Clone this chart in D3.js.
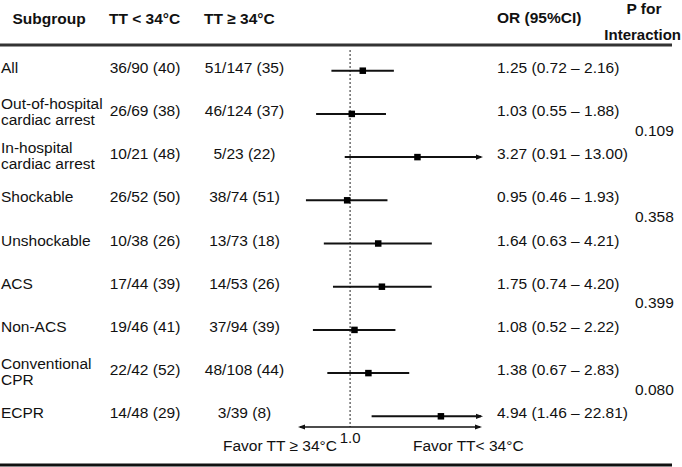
<!DOCTYPE html>
<html>
<head>
<meta charset="utf-8">
<script src="https://cdn.jsdelivr.net/npm/d3@7"></script>
<style>
  html, body { margin: 0; padding: 0; background: #fff; }
  svg { display: block; }
  text { font-family: "Liberation Sans", Arial, sans-serif; fill: #111; }
</style>
</head>
<body>
<div id="chart"></div>
<script>
// ---------- data ----------
const subgroups = ["All", "Out-of-hospital cardiac arrest", "In-hospital cardiac arrest", "Shockable",
                   "Unshockable", "ACS", "Non-ACS", "Conventional CPR", "ECPR"];
const subgroupLines = [["All"], ["Out-of-hospital", "cardiac arrest"], ["In-hospital", "cardiac arrest"],
                       ["Shockable"], ["Unshockable"], ["ACS"], ["Non-ACS"], ["Conventional", "CPR"], ["ECPR"]];
const ttBelow34 = ["36/90 (40)", "26/69 (38)", "10/21 (48)", "26/52 (50)", "10/38 (26)",
                   "17/44 (39)", "19/46 (41)", "22/42 (52)", "14/48 (29)"];
const ttAbove34 = ["51/147 (35)", "46/124 (37)", "5/23 (22)", "38/74 (51)", "13/73 (18)",
                   "14/53 (26)", "37/94 (39)", "48/108 (44)", "3/39 (8)"];
const oddsRatio = [1.25, 1.03, 3.27, 0.95, 1.64, 1.75, 1.08, 1.38, 4.94];
const ciLower   = [0.72, 0.55, 0.91, 0.46, 0.63, 0.74, 0.52, 0.67, 1.46];
const ciUpper   = [2.16, 1.88, 13.00, 1.93, 4.21, 4.20, 2.22, 2.83, 22.81];
const orLabels  = ["1.25 (0.72 \u2013 2.16)", "1.03 (0.55 \u2013 1.88)", "3.27 (0.91 \u2013 13.00)",
                   "0.95 (0.46 \u2013 1.93)", "1.64 (0.63 \u2013 4.21)", "1.75 (0.74 \u2013 4.20)",
                   "1.08 (0.52 \u2013 2.22)", "1.38 (0.67 \u2013 2.83)", "4.94 (1.46 \u2013 22.81)"];
const pInteraction = ["0.109", "0.358", "0.399", "0.080"];
const pRowPairs = [[1, 2], [3, 4], [5, 6], [7, 8]];
const axisDomain = [0.4, 10];
const refValue = 1.0;
const refLabel = "1.0";
const favorLeft = "Favor TT \u2265 34\u00B0C";
const favorRight = "Favor TT< 34\u00B0C";
const headers = { subgroup: "Subgroup", below: "TT < 34\u00B0C", above: "TT \u2265 34\u00B0C",
                  or: "OR (95%CI)", p1: "P for", p2: "Interaction" };

// ---------- layout ----------
const W = 682, H = 467;
const FS = 15.5;
const svg = d3.select("#chart").append("svg").attr("width", W).attr("height", H);

const x = d3.scaleLog().domain(axisDomain).range([298, 481]);
const y = d3.scalePoint().domain(d3.range(subgroups.length)).range([70.7, 416.3]);

const defs = svg.append("defs");
defs.append("marker").attr("id", "arr")
  .attr("viewBox", "0 -3 7 6").attr("refX", 5).attr("refY", 0)
  .attr("markerUnits", "userSpaceOnUse").attr("markerWidth", 7).attr("markerHeight", 6)
  .attr("orient", "auto-start-reverse")
  .append("path").attr("d", "M0,-2.6L7,0L0,2.6Z").attr("fill", "#111");

// header
const hdr = svg.append("g").attr("font-weight", "bold").style("font-size", FS + "px");
hdr.append("text").attr("x", 12.5).attr("y", 24).text(headers.subgroup);
hdr.append("text").attr("x", 109).attr("y", 24).text(headers.below);
hdr.append("text").attr("x", 204).attr("y", 24).text(headers.above);
hdr.append("text").attr("x", 497).attr("y", 23).text(headers.or);
hdr.append("text").attr("x", 644).attr("y", 14).attr("text-anchor", "middle").text(headers.p1);
hdr.append("text").attr("x", 681).attr("y", 40).attr("text-anchor", "end")
  .style("font-size", "15px").text(headers.p2);

// rules
svg.append("line").attr("x1", 0).attr("x2", 672).attr("y1", 45).attr("y2", 45)
  .attr("stroke", "#333").attr("stroke-width", 3);
svg.append("line").attr("x1", 0).attr("x2", 672).attr("y1", 465).attr("y2", 465)
  .attr("stroke", "#111").attr("stroke-width", 3);

const axisY = 427;

// reference dotted line
svg.append("line").attr("x1", x(refValue)).attr("x2", x(refValue))
  .attr("y1", 50).attr("y2", axisY)
  .attr("stroke", "#222").attr("stroke-width", 1).attr("stroke-dasharray", "2,2");

// rows
const idx = d3.range(subgroups.length);
const body = svg.append("g").style("font-size", FS + "px");

body.selectAll("text.lab").data(idx).join("text").attr("class", "lab")
  .attr("x", 1)
  .each(function(i) {
    const lines = subgroupLines[i];
    const t = d3.select(this);
    if (lines.length === 1) {
      t.attr("y", y(i) + 2).text(lines[0]);
    } else {
      lines.forEach((l, k) => t.append("tspan").attr("x", 1)
        .attr("y", y(i) + (k === 0 ? -4.5 : 11.5)).text(l));
    }
  });

body.selectAll("text.b").data(idx).join("text").attr("class", "b")
  .attr("x", 145).attr("y", i => y(i) + 2).attr("text-anchor", "middle").text(i => ttBelow34[i]);
body.selectAll("text.a").data(idx).join("text").attr("class", "a")
  .attr("x", 244.5).attr("y", i => y(i) + 2).attr("text-anchor", "middle").text(i => ttAbove34[i]);
body.selectAll("text.or").data(idx).join("text").attr("class", "or")
  .attr("x", 497).attr("y", i => y(i) + 2).text(i => orLabels[i]);

body.selectAll("text.p").data(pInteraction).join("text").attr("class", "p")
  .attr("x", 635).attr("y", (d, k) => (y(pRowPairs[k][0]) + y(pRowPairs[k][1])) / 2)
  .text(d => d);

// CI lines
const maxX = x(axisDomain[1]);
svg.selectAll("line.ci").data(idx).join("line").attr("class", "ci")
  .attr("x1", i => x(ciLower[i]))
  .attr("x2", i => Math.min(x(ciUpper[i]), maxX))
  .attr("y1", i => y(i)).attr("y2", i => y(i))
  .attr("stroke", "#111").attr("stroke-width", 2)
  .attr("marker-end", i => ciUpper[i] > axisDomain[1] ? "url(#arr)" : null);

// squares
const sq = 6.5;
svg.selectAll("rect.pt").data(idx).join("rect").attr("class", "pt")
  .attr("x", i => x(oddsRatio[i]) - sq / 2).attr("y", i => y(i) - sq / 2)
  .attr("width", sq).attr("height", sq).attr("fill", "#000");

// axis
svg.append("line").attr("x1", x(axisDomain[0]) + 2).attr("x2", x(axisDomain[1]) - 1)
  .attr("y1", axisY).attr("y2", axisY)
  .attr("stroke", "#111").attr("stroke-width", 1.5)
  .attr("marker-start", "url(#arr)").attr("marker-end", "url(#arr)");

svg.append("text").attr("x", x(refValue)).attr("y", 443).attr("text-anchor", "middle")
  .style("font-size", "15px").text(refLabel);
svg.append("text").attr("x", 337).attr("y", 451).attr("text-anchor", "end")
  .style("font-size", FS + "px").text(favorLeft);
svg.append("text").attr("x", 413).attr("y", 451)
  .style("font-size", FS + "px").text(favorRight);
</script>
</body>
</html>
